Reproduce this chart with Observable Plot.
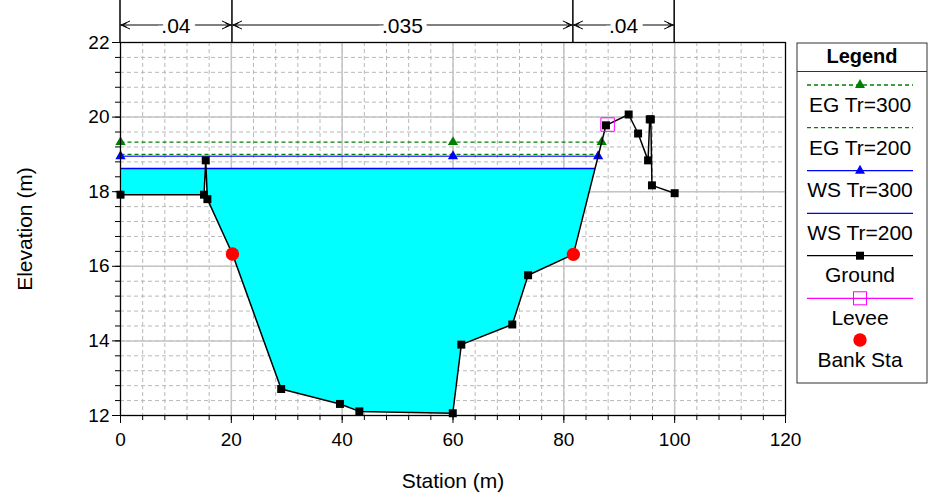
<!DOCTYPE html>
<html><head><meta charset="utf-8">
<script src="https://cdn.jsdelivr.net/npm/d3@7"></script>
<script src="https://cdn.jsdelivr.net/npm/@observablehq/plot@0.6"></script>
<style>body{margin:0;background:#fff;} svg{display:block}</style>
</head><body><div id="chart"></div>
<script>
// ---- data ----
const groundSta  = [0, 15.07, 15.38, 15.68, 20.2, 29.0, 39.6, 43.1, 59.96, 61.5, 70.7, 73.55, 81.72, 87.6, 91.7, 93.4, 95.2, 95.5, 95.7, 95.9, 100.0];
const groundElev = [17.92, 17.92, 18.84, 17.8, 16.33, 12.71, 12.31, 12.11, 12.06, 13.90, 14.44, 15.76, 16.32, 19.78, 20.07, 19.56, 18.84, 19.94, 19.94, 18.17, 17.96];
const bankSta  = [20.2, 81.72];
const bankElev = [16.33, 16.32];
const leveeSta  = [87.9];
const leveeElev = [19.8];
const profileNames = ["EG Tr=300", "EG Tr=200", "WS Tr=300", "WS Tr=200"];
const profileElev  = [19.33, 19.00, 18.95, 18.62];
const markerSta = [0, 60];
const nStations = [0, 20.2, 81.72, 100];
const nValues = [".04", ".035", ".04"];
const xMajor = [0, 20, 40, 60, 80, 100, 120];
const yMajor = [12, 14, 16, 18, 20, 22];
const xMinor = d3.range(0, 121, 4);
const yMinor = d3.range(0, 26).map(i => Math.round((12 + i * 0.4) * 10) / 10);
const legendLabels = ["EG Tr=300", "EG Tr=200", "WS Tr=300", "WS Tr=200", "Ground", "Levee", "Bank Sta"];

// ---- derived from data ----
const ground = groundSta.map((s, i) => ({s, e: groundElev[i]}));
const thalweg = d3.minIndex(groundElev);
function rightEnd(level) {
  for (let i = thalweg; i < ground.length - 1; i++) {
    const a = ground[i], b = ground[i + 1];
    if (a.e <= level && b.e > level) return a.s + (level - a.e) / (b.e - a.e) * (b.s - a.s);
  }
  return groundSta[groundSta.length - 1];
}
const profiles = profileNames.map((name, i) => ({name, elev: profileElev[i], x0: groundSta[0], x1: rightEnd(profileElev[i])}));
const ws200 = profiles[3];
const fillPts = [];
for (let i = 0; i < ground.length - 1; i++) {
  const a = ground[i], b = ground[i + 1];
  if (a.s > ws200.x1) break;
  fillPts.push({s: a.s, lo: Math.min(a.e, ws200.elev)});
  if ((a.e - ws200.elev) * (b.e - ws200.elev) < 0) {
    const s = a.s + (ws200.elev - a.e) / (b.e - a.e) * (b.s - a.s);
    fillPts.push({s, lo: ws200.elev});
  }
}
const markerPts = p => [...markerSta, p.x1].map(s => ({s, e: p.elev}));

const GREEN = "#008000", BLUE = "#0000ff", FONT = "Liberation Sans, Arial, Helvetica, sans-serif";

function overlay(index, scales, values, dims) {
  const x = scales.x;
  const g = d3.create("svg:g").attr("font-family", FONT);
  const top = dims.marginTop;
  // Manning's n bar
  const ay = 25;
  g.selectAll("line.v").data(nStations).join("line")
    .attr("x1", d => x(d)).attr("x2", d => x(d)).attr("y1", 0).attr("y2", top)
    .attr("stroke", "black").attr("stroke-width", 1.5);
  nValues.forEach((v, i) => {
    const a = x(nStations[i]), b = x(nStations[i + 1]);
    g.append("line").attr("x1", a).attr("x2", b).attr("y1", ay).attr("y2", ay).attr("stroke", "black").attr("stroke-width", 1);
    g.append("path").attr("d", `M${a + 10},${ay - 4}L${a + 1},${ay}L${a + 10},${ay + 4}M${a + 7},${ay - 2.5}L${a + 3},${ay}L${a + 7},${ay + 2.5}`)
      .attr("fill", "none").attr("stroke", "black").attr("stroke-width", 1);
    g.append("path").attr("d", `M${b - 10},${ay - 4}L${b - 1},${ay}L${b - 10},${ay + 4}M${b - 7},${ay - 2.5}L${b - 3},${ay}L${b - 7},${ay + 2.5}`)
      .attr("fill", "none").attr("stroke", "black").attr("stroke-width", 1);
    g.append("text").attr("x", (a + b) / 2).attr("y", ay + 8).attr("text-anchor", "middle")
      .attr("font-size", 21).attr("fill", "black").attr("stroke", "white").attr("stroke-width", 10)
      .attr("paint-order", "stroke").text(v);
  });
  // Legend
  const L = 797, R = 927, T = 43, B = 383, cx = 860, lx1 = 807, lx2 = 913;
  g.append("rect").attr("x", L).attr("y", T).attr("width", R - L).attr("height", B - T)
    .attr("fill", "white").attr("stroke", "#333").attr("stroke-width", 1);
  g.append("line").attr("x1", L).attr("x2", R).attr("y1", 71.5).attr("y2", 71.5).attr("stroke", "#333");
  g.append("text").attr("x", (L + R) / 2).attr("y", 63).attr("text-anchor", "middle")
    .attr("font-size", 20).attr("font-weight", "bold").text("Legend");
  const lineYs = [85, 127.7, 170.7, 213.3, 255.7, 298.3, 340];
  const labYs  = [112, 155, 197, 239.5, 282, 325, 366.5];
  const styles = [
    {stroke: GREEN, dash: "4,3", marker: "tri", mc: GREEN},
    {stroke: GREEN, dash: "4,3"},
    {stroke: BLUE, marker: "tri", mc: BLUE},
    {stroke: BLUE},
    {stroke: "black", marker: "sq"},
    {stroke: "magenta", marker: "osq"},
    {marker: "dot"}
  ];
  styles.forEach((st, i) => {
    const y = lineYs[i];
    if (st.stroke) g.append("line").attr("x1", lx1).attr("x2", lx2).attr("y1", y).attr("y2", y)
      .attr("stroke", st.stroke).attr("stroke-width", 1.3).attr("stroke-dasharray", st.dash || null);
    if (st.marker === "tri") g.append("path").attr("d", `M${cx},${y - 6}L${cx + 5},${y + 3}L${cx - 5},${y + 3}Z`).attr("fill", st.mc);
    if (st.marker === "sq") g.append("rect").attr("x", cx - 4).attr("y", y - 4).attr("width", 8).attr("height", 8).attr("fill", "black");
    if (st.marker === "osq") g.append("rect").attr("x", cx - 6.5).attr("y", y - 6.5).attr("width", 13).attr("height", 13).attr("fill", "none").attr("stroke", "magenta");
    if (st.marker === "dot") g.append("circle").attr("cx", cx).attr("cy", y).attr("r", 6.7).attr("fill", "red");
    g.append("text").attr("x", cx).attr("y", labYs[i]).attr("text-anchor", "middle").attr("font-size", 21).text(legendLabels[i]);
  });
  return g.node();
}

const chart = Plot.plot({
  width: 932, height: 496,
  marginLeft: 120, marginRight: 147, marginTop: 42, marginBottom: 81,
  style: {fontFamily: FONT, fontSize: "19px", background: "white", color: "black"},
  x: {domain: [0, 120]},
  y: {domain: [12, 22]},
  marks: [
    Plot.gridX(xMinor, {stroke: "#b8b8b8", strokeOpacity: 1, strokeDasharray: "4,3"}),
    Plot.gridY(yMinor, {stroke: "#b8b8b8", strokeOpacity: 1, strokeDasharray: "4,3"}),
    Plot.gridX(xMajor, {stroke: "#c4c4c4", strokeOpacity: 1, strokeWidth: 1.5}),
    Plot.gridY(yMajor, {stroke: "#c4c4c4", strokeOpacity: 1, strokeWidth: 1.5}),
    Plot.areaY(fillPts, {x: "s", y1: "lo", y2: () => ws200.elev, fill: "#00ffff", fillOpacity: 1, curve: "linear"}),
    // profile lines
    Plot.link([profiles[0]], {x1: "x0", x2: "x1", y1: "elev", y2: "elev", stroke: GREEN, strokeWidth: 1.3, strokeDasharray: "4,3"}),
    Plot.link([profiles[1]], {x1: "x0", x2: "x1", y1: "elev", y2: "elev", stroke: GREEN, strokeWidth: 1.3, strokeDasharray: "4,3"}),
    Plot.link([profiles[2]], {x1: "x0", x2: "x1", y1: "elev", y2: "elev", stroke: BLUE, strokeWidth: 1.3, strokeOpacity: 0.75}),
    Plot.link([profiles[3]], {x1: "x0", x2: "x1", y1: "elev", y2: "elev", stroke: BLUE, strokeWidth: 1.6}),
    Plot.dot(markerPts(profiles[0]), {x: "s", y: "e", symbol: "triangle", r: 3.8, fill: GREEN}),
    Plot.dot(markerPts(profiles[2]), {x: "s", y: "e", symbol: "triangle", r: 3.8, fill: BLUE}),
    // ground
    Plot.line(ground, {x: "s", y: "e", stroke: "black", strokeWidth: 1.5}),
    Plot.dot(ground, {x: "s", y: "e", symbol: "square", r: 4.5, fill: "black"}),
    Plot.dot(leveeSta.map((s, i) => ({s, e: leveeElev[i]})), {x: "s", y: "e", symbol: "square", r: 7.6, fill: "none", stroke: "magenta", strokeWidth: 1}),
    Plot.dot(bankSta.map((s, i) => ({s, e: bankElev[i]})), {x: "s", y: "e", r: 6.7, fill: "red"}),
    Plot.frame({stroke: "black", strokeWidth: 1.2}),
    Plot.axisX(xMajor, {tickSize: 8, tickPadding: 9, fontSize: 19, label: null}),
    Plot.axisX(xMinor, {tickSize: 5, tickFormat: () => "", label: null}),
    Plot.axisY(yMajor, {tickSize: 8, tickPadding: 3, fontSize: 19, label: null}),
    Plot.axisY(yMinor, {tickSize: 5, tickFormat: () => "", label: null}),
    Plot.text(["Station (m)"], {frameAnchor: "bottom", dy: 66, lineAnchor: "middle", textAnchor: "middle", fontSize: 21, text: d => d}),
    Plot.text(["Elevation (m)"], {frameAnchor: "left", dx: -95, rotate: -90, lineAnchor: "middle", textAnchor: "middle", fontSize: 21, text: d => d}),
    overlay
  ]
});
document.getElementById("chart").append(chart);
</script>
</body></html>
